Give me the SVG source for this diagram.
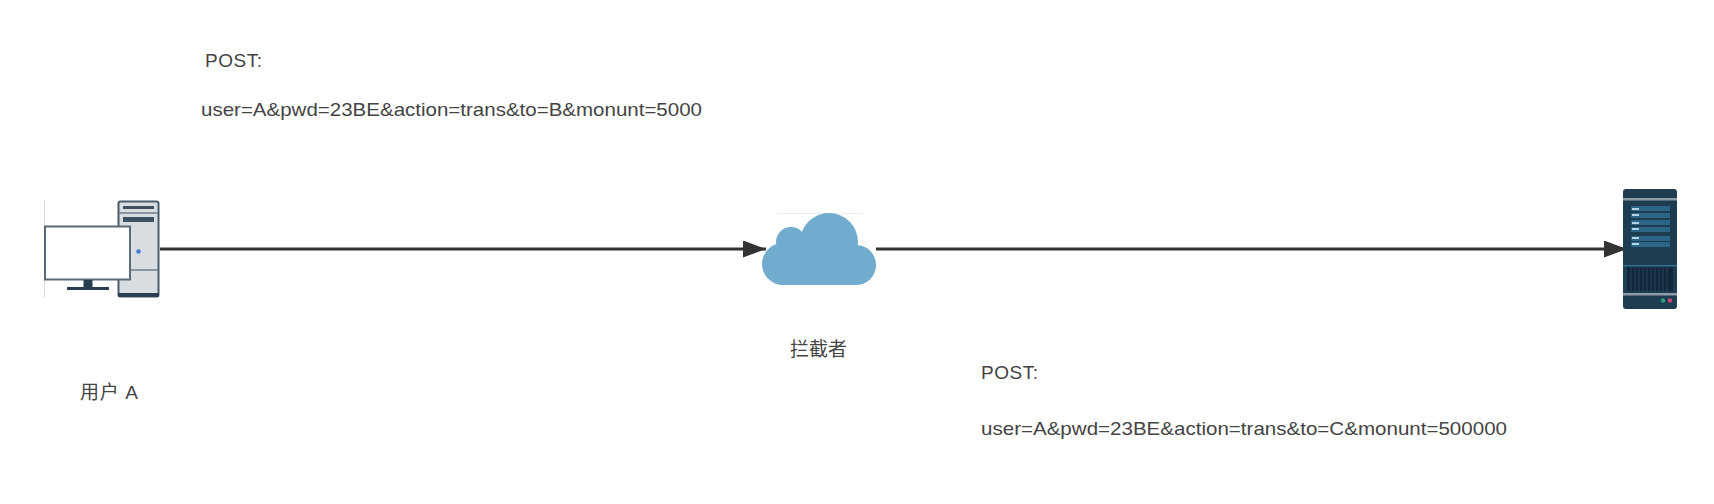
<svg xmlns="http://www.w3.org/2000/svg" width="1714" height="504" viewBox="0 0 1714 504">
<style>
text{font-family:"Liberation Sans","Noto Sans CJK SC",sans-serif;font-size:19px;fill:#444}
.conn{stroke:#333;stroke-width:3;fill:none}
.d{fill:#2a3f52}
.lb{fill:#2b6587}
.w{fill:#b7d4e3}
.cloud{fill:#71accf}
</style>
<defs>
<marker id="arrow" markerUnits="userSpaceOnUse" markerWidth="24" markerHeight="18" refX="23" refY="8.500" orient="auto"><path d="M0 0L23 8.500L0 17Z" fill="#333"/></marker>
</defs>
<rect width="1714" height="504" fill="#fff"/>
<g id="connectors">
<path class="conn" d="M160 249H766" marker-end="url(#arrow)"/>
<path class="conn" d="M876 249H1627" marker-end="url(#arrow)"/>
</g>
<g id="user-a">
<path d="M44.500 200V298" stroke="#d5d8da" fill="none"/>
<rect x="118.500" y="201.500" width="40" height="95" rx="2" fill="#d8dde1" stroke="#4a5d6c" stroke-width="2"/>
<rect x="118" y="293" width="41" height="4" class="d"/>
<path d="M119 213H158M119 270H158" stroke="#6d7d89" stroke-width="1.500"/>
<rect x="123" y="206" width="31" height="3" fill="#3d5163"/>
<rect x="123" y="217" width="31" height="5" fill="#3d5163"/>
<circle cx="138.500" cy="251.500" r="2.200" fill="#3f78d8"/>
<rect x="45" y="226.500" width="85" height="53" fill="#fff" stroke="#5a6b78" stroke-width="2"/>
<rect x="83.500" y="280" width="9" height="8" class="d"/>
<rect x="67" y="287" width="42" height="3" class="d"/>
<text x="80" y="399" textLength="58">用户 A</text>
</g>
<g id="interceptor">
<path d="M777 213.500H863" stroke="#e8eef1" fill="none"/>
<circle class="cloud" cx="829" cy="242" r="29"/>
<circle class="cloud" cx="791" cy="242" r="15"/>
<circle class="cloud" cx="783" cy="264" r="21"/>
<circle class="cloud" cx="856" cy="265" r="20"/>
<rect class="cloud" x="783" y="240" width="73" height="45"/>
<text x="790" y="356">拦截者</text>
</g>
<g id="server">
<rect x="1623" y="189" width="54" height="120" rx="3" fill="#1e3d50"/>
<rect x="1623" y="198" width="54" height="2.500" fill="#8d9ca6"/>
<rect x="1631" y="206" width="39" height="5" class="lb"/><rect x="1631" y="213" width="39" height="5" class="lb"/>
<rect x="1631" y="220" width="39" height="5" class="lb"/><rect x="1631" y="227" width="39" height="5" class="lb"/>
<rect x="1631" y="236" width="39" height="5" class="lb"/><rect x="1631" y="242" width="39" height="5" class="lb"/>
<g class="w">
<rect x="1632" y="208" width="7" height="2"/><rect x="1632" y="214" width="7" height="2"/>
<rect x="1632" y="222" width="7" height="2"/><rect x="1632" y="228" width="7" height="2"/>
<rect x="1632" y="237" width="7" height="2"/><rect x="1632" y="243" width="7" height="2"/>
</g>
<rect x="1623" y="265" width="54" height="1.500" fill="#2f6f95"/>
<rect x="1627" y="267" width="46" height="24" fill="#12283a"/>
<path d="M1631 267V291M1635 267V291M1639 267V291M1643 267V291M1647 267V291M1651 267V291M1655 267V291M1659 267V291M1663 267V291M1667 267V291" stroke="#24425a" stroke-width="1"/>
<rect x="1623" y="293" width="54" height="2.500" fill="#8d9ca6"/>
<circle cx="1663" cy="300.500" r="2.200" fill="#2f9c7a"/>
<circle cx="1670" cy="300.500" r="2.200" fill="#c8486b"/>
</g>
<g id="request-original">
<text x="205" y="67" textLength="57">POST:</text>
<text x="201" y="116" textLength="501" lengthAdjust="spacingAndGlyphs">user=A&amp;pwd=23BE&amp;action=trans&amp;to=B&amp;monunt=5000</text>
</g>
<g id="request-tampered">
<text x="981" y="379" textLength="57">POST:</text>
<text x="981" y="435" textLength="526" lengthAdjust="spacingAndGlyphs">user=A&amp;pwd=23BE&amp;action=trans&amp;to=C&amp;monunt=500000</text>
</g>
</svg>
